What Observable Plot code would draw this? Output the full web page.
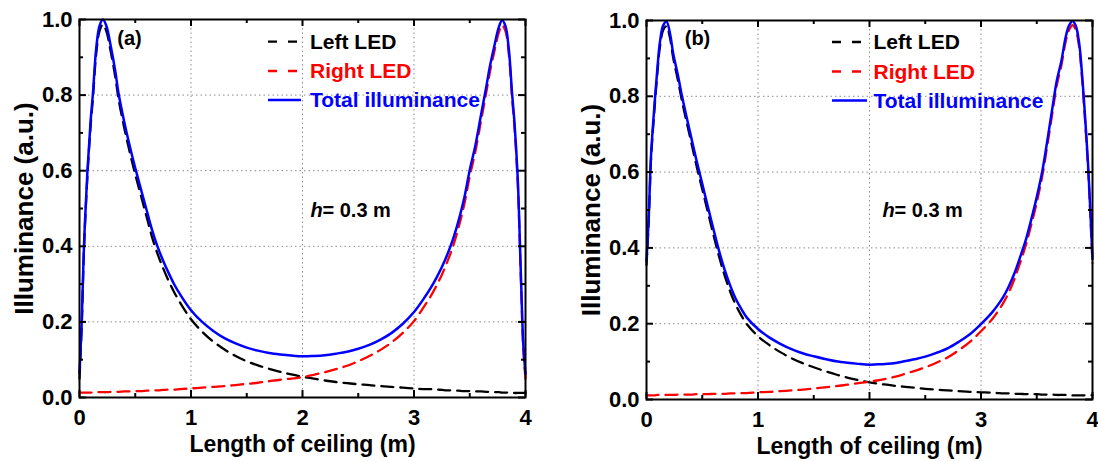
<!DOCTYPE html>
<html><head><meta charset="utf-8">
<script src="https://cdn.jsdelivr.net/npm/d3@7"></script>
<script src="https://cdn.jsdelivr.net/npm/@observablehq/plot@0.6"></script>
<style>
html,body{margin:0;padding:0;background:#fff;}
#wrap{position:relative;width:1098px;height:461px;overflow:hidden;background:#fff;}
#wrap > svg{position:absolute;top:0;}
</style></head><body><div id="wrap"></div>
<script>
// ---- data ----
const xs = [0,0.02,0.04,0.07,0.10,0.12,0.15,0.18,0.21,0.24,0.28,0.32,0.35,0.40,0.45,0.50,0.55,0.60,0.65,0.70,0.75,0.80,0.85,0.90,
  1.0,1.1,1.2,1.3,1.4,1.5,1.6,1.7,1.8,1.9,2.0,2.1,2.2,2.3,2.4,2.5,2.6,2.7,2.8,2.9,3.0,
  3.1,3.15,3.2,3.25,3.3,3.35,3.4,3.45,3.5,3.55,3.6,3.65,3.68,3.72,3.76,3.79,3.82,3.85,3.88,3.90,3.93,3.96,3.98,4.0];

const leftA = [0.05,0.19,0.39,0.58,0.72,0.79,0.91,0.97,0.987,0.97,0.915,0.85,0.79,0.715,0.65,0.59,0.535,0.48,0.425,0.38,0.342,0.308,0.278,0.252,
  0.207,0.174,0.148,0.127,0.110,0.096,0.085,0.076,0.068,0.061,0.055,0.050,0.045,0.041,0.038,0.035,0.033,0.030,0.028,0.026,0.024,
  0.022,0.022,0.021,0.020,0.019,0.019,0.018,0.017,0.017,0.016,0.016,0.015,0.015,0.014,0.014,0.013,0.013,0.013,0.013,0.012,0.012,0.012,0.012,0.012];
const rightA = [0.013,0.013,0.013,0.013,0.013,0.013,0.014,0.014,0.014,0.014,0.015,0.015,0.015,0.016,0.016,0.017,0.017,0.018,0.019,0.019,0.020,0.021,0.021,0.022,
  0.024,0.026,0.028,0.030,0.033,0.036,0.039,0.043,0.047,0.050,0.054,0.060,0.067,0.075,0.084,0.096,0.110,0.126,0.146,0.171,0.202,
  0.245,0.268,0.295,0.325,0.36,0.40,0.45,0.51,0.585,0.65,0.73,0.81,0.86,0.915,0.965,0.985,0.97,0.91,0.79,0.72,0.57,0.30,0.13,0.05];
const totalA = [0.065,0.2,0.4,0.593,0.733,0.803,0.924,0.984,1.0,0.984,0.93,0.865,0.805,0.731,0.666,0.607,0.552,0.498,0.444,0.399,0.362,0.329,0.299,0.274,
  0.231,0.200,0.176,0.157,0.143,0.132,0.124,0.118,0.114,0.111,0.109,0.110,0.112,0.116,0.121,0.129,0.139,0.153,0.171,0.195,0.226,
  0.267,0.29,0.316,0.345,0.379,0.419,0.468,0.527,0.602,0.666,0.746,0.825,0.875,0.929,0.979,0.998,0.983,0.923,0.803,0.732,0.582,0.312,0.142,0.062];

const leftB = [0.355,0.47,0.63,0.76,0.87,0.93,0.975,0.985,0.955,0.90,0.845,0.785,0.745,0.68,0.615,0.555,0.495,0.435,0.378,0.328,0.285,0.250,0.222,0.199,
  0.167,0.144,0.125,0.109,0.096,0.085,0.075,0.066,0.058,0.051,0.045,0.041,0.037,0.034,0.031,0.028,0.026,0.024,0.022,0.020,0.019,
  0.018,0.017,0.016,0.016,0.015,0.015,0.014,0.014,0.014,0.013,0.013,0.013,0.012,0.012,0.012,0.012,0.011,0.011,0.011,0.011,0.011,0.011,0.011,0.011];
const rightB = [0.011,0.011,0.011,0.011,0.012,0.012,0.012,0.012,0.012,0.012,0.013,0.013,0.013,0.013,0.014,0.014,0.014,0.015,0.015,0.015,0.016,0.016,0.017,0.017,
  0.019,0.020,0.022,0.024,0.026,0.029,0.032,0.035,0.039,0.043,0.047,0.052,0.058,0.066,0.075,0.085,0.097,0.111,0.13,0.152,0.18,
  0.212,0.232,0.255,0.283,0.318,0.36,0.405,0.46,0.52,0.59,0.68,0.775,0.83,0.88,0.945,0.975,0.988,0.975,0.93,0.87,0.75,0.61,0.49,0.36];
const totalB = [0.366,0.481,0.641,0.771,0.882,0.942,0.987,0.997,0.967,0.912,0.858,0.798,0.758,0.693,0.629,0.569,0.509,0.45,0.393,0.343,0.301,0.266,0.239,0.216,
  0.186,0.164,0.147,0.133,0.122,0.114,0.107,0.101,0.097,0.094,0.092,0.093,0.095,0.10,0.106,0.113,0.123,0.135,0.152,0.172,0.199,
  0.23,0.249,0.271,0.299,0.333,0.375,0.419,0.474,0.534,0.603,0.693,0.788,0.842,0.892,0.957,0.987,0.999,0.986,0.941,0.881,0.761,0.621,0.501,0.371];

const xMajor = [0,1,2,3,4];
const xMinor = [0.5,1.5,2.5,3.5];
const yMajor = [0,0.2,0.4,0.6,0.8,1.0];
const yMinor = [0.1,0.3,0.5,0.7,0.9];
const xGrid = [1,2,3];
const yGrid = [0.2,0.4,0.6,0.8];
const legendLabels = ["Left LED","Right LED","Total illuminance"];
const xTitle = "Length of ceiling (m)";
const yTitle = "Illuminance (a.u.)";
const annotH = "h";
const annotRest = "= 0.3 m";

// ---- layout / style ----
const FONT = "'Liberation Sans', Arial, Helvetica, sans-serif";
const colors = ["#000000","#ff0000","#0000ff"];
const panels = [
  {label:"(a)", left:leftA, right:rightA, total:totalA, offset:0,
   m:{left:79,right:24,top:19,bottom:64},
   lay:{labelDx:50, labelDy:19, hDx:231, restDx:243, hDy:191, sample:[189,222], textDx:231, rows:[22.7,52,81]}},
  {label:"(b)", left:leftB, right:rightB, total:totalB, offset:549,
   m:{left:97,right:6,top:20,bottom:62},
   lay:{labelDx:51, labelDy:18, hDx:236, restDx:248, hDy:190, sample:[186,221], textDx:227.5, rows:[22,51.5,80.5]}}
];
const W = 549, H = 461;

function legendMark(p) {
  return (index, scales, values, dims) => {
    const g = d3.create("svg:g");
    legendLabels.forEach((lab, i) => {
      const y = dims.marginTop + p.lay.rows[i];
      g.append("line")
        .attr("x1", dims.marginLeft + p.lay.sample[0]).attr("x2", dims.marginLeft + p.lay.sample[1])
        .attr("y1", y).attr("y2", y)
        .attr("stroke", colors[i]).attr("stroke-width", i === 2 ? 2.5 : 2.3)
        .attr("stroke-dasharray", i === 2 ? null : "9,11");
      g.append("text")
        .attr("x", dims.marginLeft + p.lay.textDx).attr("y", y).attr("dy", "0.35em")
        .attr("text-anchor", "start")
        .attr("fill", colors[i]).attr("font-size", 21).attr("font-weight", "bold")
        .attr("font-family", FONT).text(lab);
    });
    return g.node();
  };
}

function makePlot(p) {
  const fh = H - p.m.top - p.m.bottom;
  const fw = W - p.m.left - p.m.right;
  const rows = xs.map((x, i) => ({x, L: p.left[i], R: p.right[i], T: p.total[i]}));
  const tick = {stroke: "black", strokeWidth: 2};
  const svg = Plot.plot({
    width: W, height: H,
    marginLeft: p.m.left, marginRight: p.m.right, marginTop: p.m.top, marginBottom: p.m.bottom,
    x: {domain: [0, 4]},
    y: {domain: [0, 1]},
    style: {fontFamily: FONT, fontWeight: "bold", fontSize: "22px", background: "white", color: "black", overflow: "visible"},
    marks: [
      Plot.gridX(xGrid, {stroke: "#8c8c8c", strokeOpacity: 1, strokeWidth: 1, strokeDasharray: "1.5,3"}),
      Plot.gridY(yGrid, {stroke: "#8c8c8c", strokeOpacity: 1, strokeWidth: 1, strokeDasharray: "1.5,3"}),
      Plot.line(rows, {x: "x", y: "L", stroke: colors[0], strokeWidth: 2.3, strokeDasharray: "12,7", curve: "catmull-rom"}),
      Plot.line(rows, {x: "x", y: "R", stroke: colors[1], strokeWidth: 2.3, strokeDasharray: "12,7", curve: "catmull-rom"}),
      Plot.line(rows, {x: "x", y: "T", stroke: colors[2], strokeWidth: 2.5, curve: "catmull-rom"}),
      Plot.ruleX(xMajor, {...tick, insetTop: fh - 7}),
      Plot.ruleX(xMajor, {...tick, insetBottom: fh - 7}),
      Plot.ruleX(xMinor, {...tick, insetTop: fh - 4}),
      Plot.ruleX(xMinor, {...tick, insetBottom: fh - 4}),
      Plot.ruleY(yMajor, {...tick, insetRight: fw - 7}),
      Plot.ruleY(yMajor, {...tick, insetLeft: fw - 7}),
      Plot.ruleY(yMinor, {...tick, insetRight: fw - 4}),
      Plot.ruleY(yMinor, {...tick, insetLeft: fw - 4}),
      Plot.frame({stroke: "black", strokeWidth: 2}),
      Plot.axisX(xMajor, {tickSize: 0, tickPadding: 12, fontSize: 22, fontWeight: "bold", tickFormat: d => String(d), label: null}),
      Plot.axisY(yMajor, {tickSize: 0, tickPadding: 7, fontSize: 22, fontWeight: "bold", tickFormat: d3.format(".1f"), label: null}),
      Plot.text([xTitle], {frameAnchor: "bottom", textAnchor: "middle", lineAnchor: "bottom", dy: 54, text: d => d, fontSize: 23, fontWeight: "bold", fill: "black"}),
      Plot.text([yTitle], {frameAnchor: "left", textAnchor: "middle", lineAnchor: "bottom", rotate: -90, dx: -47, text: d => d, fontSize: 26, fontWeight: "bold", fill: "black"}),
      Plot.text([p.label], {frameAnchor: "top-left", dx: p.lay.labelDx, dy: p.lay.labelDy, textAnchor: "middle", lineAnchor: "middle", text: d => d, fontSize: 20, fontWeight: "bold", fill: "black"}),
      Plot.text([annotH], {frameAnchor: "top-left", dx: p.lay.hDx, dy: p.lay.hDy, textAnchor: "start", lineAnchor: "middle", text: d => d, fontSize: 20, fontWeight: "bold", fontStyle: "italic", fill: "black"}),
      Plot.text([annotRest], {frameAnchor: "top-left", dx: p.lay.restDx, dy: p.lay.hDy, textAnchor: "start", lineAnchor: "middle", text: d => d, fontSize: 20, fontWeight: "bold", fill: "black"}),
      legendMark(p)
    ]
  });
  svg.style.left = p.offset + "px";
  return svg;
}

const wrap = document.getElementById("wrap");
panels.forEach(p => wrap.appendChild(makePlot(p)));
</script>
</body></html>
